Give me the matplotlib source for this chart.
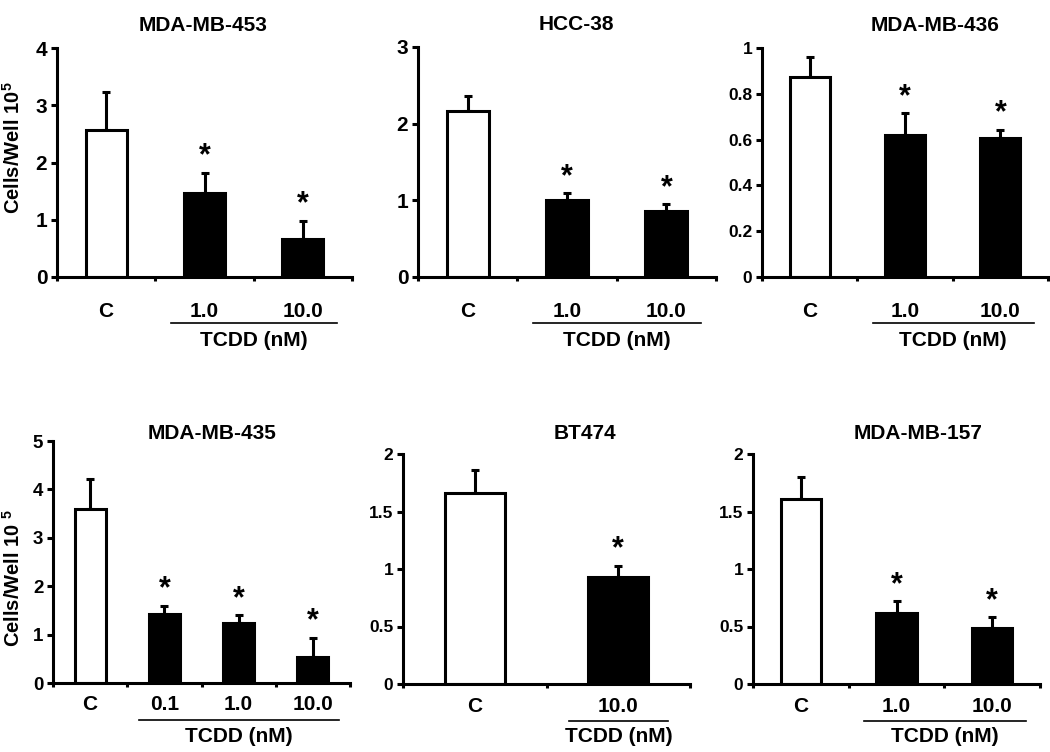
import matplotlib
matplotlib.use("Agg")
import matplotlib.pyplot as plt
import matplotlib.transforms as mtransforms

plt.rcParams['font.family'] = ['Liberation Sans', 'DejaVu Sans']
plt.rcParams['font.weight'] = 'bold'
plt.rcParams['mathtext.fontset'] = 'custom'
plt.rcParams['mathtext.rm'] = 'Liberation Sans:bold'
plt.rcParams['mathtext.it'] = 'Liberation Sans:bold'
plt.rcParams['mathtext.bf'] = 'Liberation Sans:bold'

# Data
titles = ["MDA-MB-453", "HCC-38", "MDA-MB-436", "MDA-MB-435", "BT474", "MDA-MB-157"]

cats_453 = ["C", "1.0", "10.0"]
mean_453 = [2.57, 1.47, 0.66]
err_453 = [0.66, 0.35, 0.32]

cats_hcc38 = ["C", "1.0", "10.0"]
mean_hcc38 = [2.17, 1.01, 0.86]
err_hcc38 = [0.19, 0.08, 0.09]

cats_436 = ["C", "1.0", "10.0"]
mean_436 = [0.875, 0.622, 0.605]
err_436 = [0.087, 0.092, 0.038]

cats_435 = ["C", "0.1", "1.0", "10.0"]
mean_435 = [3.59, 1.42, 1.23, 0.54]
err_435 = [0.62, 0.18, 0.17, 0.40]

cats_bt474 = ["C", "10.0"]
mean_bt474 = [1.66, 0.93]
err_bt474 = [0.20, 0.10]

cats_157 = ["C", "1.0", "10.0"]
mean_157 = [1.61, 0.62, 0.49]
err_157 = [0.19, 0.10, 0.09]

yticks_list = [
    [0, 1, 2, 3, 4],
    [0, 1, 2, 3],
    [0, 0.2, 0.4, 0.6, 0.8, 1],
    [0, 1, 2, 3, 4, 5],
    [0, 0.5, 1, 1.5, 2],
    [0, 0.5, 1, 1.5, 2],
]

panels = [
    (cats_453, mean_453, err_453),
    (cats_hcc38, mean_hcc38, err_hcc38),
    (cats_436, mean_436, err_436),
    (cats_435, mean_435, err_435),
    (cats_bt474, mean_bt474, err_bt474),
    (cats_157, mean_157, err_157),
]

W, H = 1050, 752
# axes boxes in pixels: left, right, top, bottom
boxes = [
    (57, 352, 48, 277),
    (418, 716, 47, 277),
    (762, 1048, 48, 277),
    (53, 350, 441, 683),
    (403, 690, 454, 684),
    (753, 1040, 454, 684),
]
title_pos = [(0.495, 1.10), (0.53, 1.10), (0.605, 1.10),
             (0.535, 1.033), (0.634, 1.09), (0.575, 1.09)]
ytick_size = [15, 15, 12.5, 13.5, 12.5, 12.5]
lw = 2.2

fig = plt.figure(figsize=(W / 100, H / 100), dpi=100)

for k, (cats, means, errs) in enumerate(panels):
    l, r, t, b = boxes[k]
    ax = fig.add_axes([l / W, 1 - b / H, (r - l) / W, (b - t) / H])
    n = len(cats)
    x = list(range(n))
    colors = ["white"] + ["black"] * (n - 1)
    ax.bar(x, means, width=0.42, color=colors, edgecolor="black",
           linewidth=lw, zorder=2)
    ax.errorbar(x, means, yerr=[[0] * n, errs], fmt="none", ecolor="black",
                elinewidth=lw, capsize=3, capthick=lw, zorder=1)
    for i in range(1, n):
        ax.annotate("*", xy=(x[i], means[i] + errs[i]), xytext=(0, 1),
                    textcoords="offset points", ha="center", va="bottom",
                    fontsize=22, fontweight="bold")

    yt = yticks_list[k]
    ax.set_xlim(-0.5, n - 0.5)
    ax.set_ylim(0, yt[-1])
    ax.set_yticks(yt)
    ax.set_yticklabels([f"{v:g}" for v in yt], fontsize=ytick_size[k],
                       fontweight="bold")

    top_row = k < 3
    ax.set_xticks(x)
    ax.set_xticklabels(cats, fontsize=15, fontweight="bold")
    ax.set_xticks([i - 0.5 for i in range(n + 1)], minor=True)
    ax.tick_params(axis="x", which="major", length=0,
                   pad=18 if top_row else 9)
    ax.tick_params(axis="x", which="minor", length=3, width=lw,
                   direction="out")
    ax.tick_params(axis="y", length=4, width=lw, direction="out", pad=3)

    for s in ["top", "right"]:
        ax.spines[s].set_visible(False)
    for s in ["left", "bottom"]:
        ax.spines[s].set_linewidth(lw)

    ax.text(title_pos[k][0], title_pos[k][1], titles[k],
            transform=ax.transAxes, ha="center", va="center",
            fontsize=15, fontweight="bold")

    # TCDD bracket under the treatment labels
    trans = mtransforms.blended_transform_factory(ax.transData, ax.transAxes)
    line_off = 46 if top_row else 37
    text_off = 63 if top_row else 53
    ax_h = b - t
    x0, x1 = 0.66, n - 1 + 0.35
    ax.plot([x0, x1], [-line_off / ax_h] * 2, color="black", lw=1.2,
            transform=trans, clip_on=False)
    ax.text((x0 + x1) / 2, -text_off / ax_h, "TCDD (nM)", transform=trans,
            ha="center", va="center", fontsize=15, fontweight="bold")

fig.text(13 / W, 1 - 148 / H, r"Cells/Well 10$^{5}$", rotation=90,
         ha="center", va="center", fontsize=14.5, fontweight="bold")
fig.text(13 / W, 1 - 578 / H, r"Cells/Well 10 $^{5}$", rotation=90,
         ha="center", va="center", fontsize=14.5, fontweight="bold")

fig.savefig("out.png", dpi=100)
